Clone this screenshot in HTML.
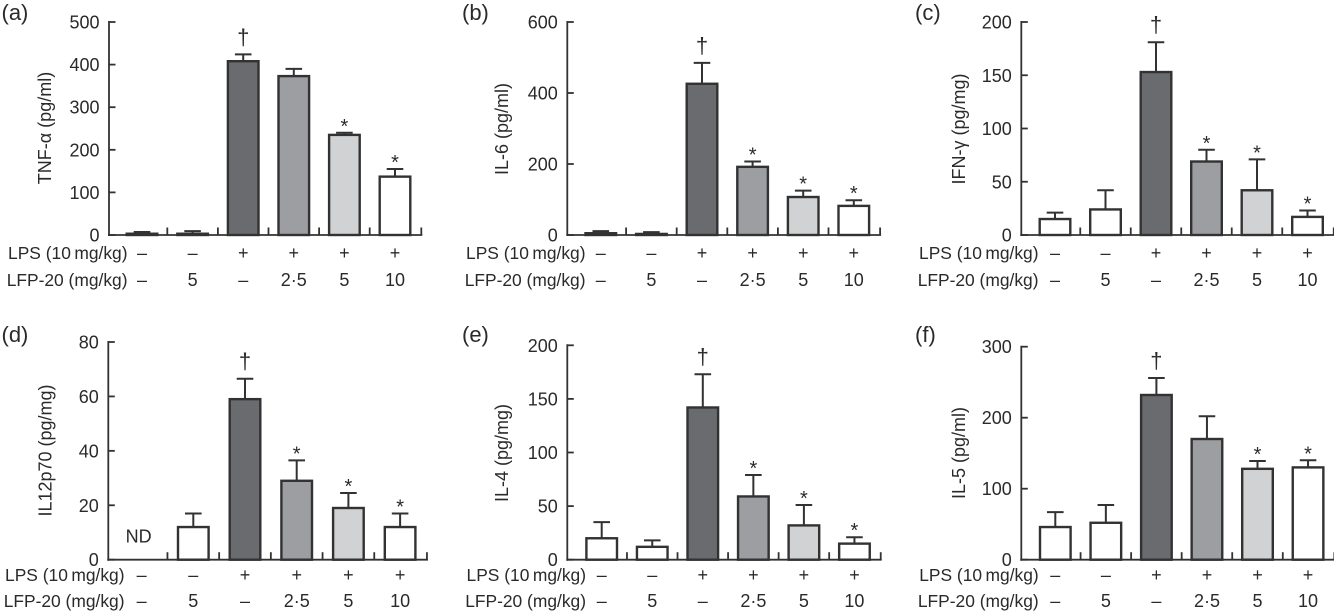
<!DOCTYPE html>
<html lang="en">
<head>
<meta charset="utf-8">
<title>Cytokine levels by treatment</title>
<style>
html,body{margin:0;padding:0;background:#fff;width:1334px;height:611px;overflow:hidden}
svg{display:block}
text{font-family:"Liberation Sans",Arial,sans-serif;fill:#2b2a2b;font-size:18px}
</style>
</head>
<body>
<svg id="figure" xmlns="http://www.w3.org/2000/svg" width="1334" height="611" viewBox="0 0 1334 611"></svg>
<script>
// Shared categories
const lpsRow = ['–', '–', '+', '+', '+', '+'];
const lfpRow = ['–', '5', '–', '2·5', '5', '10'];
const barFills = ['#ffffff', '#ffffff', '#6a6b6e', '#9c9ea1', '#d0d2d3', '#ffffff'];

// Panel (a) TNF-alpha
const aValues = [3, 3, 408, 373, 235, 137];
const aErrorTops = [7, 9, 424, 390, 240, 155];
const aMarkers = ['', '', '†', '', '*', '*'];
const aTicks = [0, 100, 200, 300, 400, 500];

// Panel (b) IL-6
const bValues = [5, 3, 426, 192, 107, 82];
const bErrorTops = [11, 8, 485, 207, 125, 98];
const bMarkers = ['', '', '†', '*', '*', '*'];
const bTicks = [0, 200, 400, 600];

// Panel (c) IFN-gamma
const cValues = [15, 24, 153, 69, 42, 17];
const cErrorTops = [21, 42, 181, 80, 71, 23];
const cMarkers = ['', '', '†', '*', '*', '*'];
const cTicks = [0, 50, 100, 150, 200];

// Panel (d) IL12p70 (first group not detected)
const dValues = [null, 12, 59, 29, 19, 12];
const dErrorTops = [null, 17, 66.5, 36.5, 24.5, 17];
const dMarkers = ['', '', '†', '*', '*', '*'];
const dTicks = [0, 20, 40, 60, 80];

// Panel (e) IL-4
const eValues = [20, 12, 142, 59, 32, 15];
const eErrorTops = [35, 18, 173, 79, 51, 21];
const eMarkers = ['', '', '†', '*', '*', '*'];
const eTicks = [0, 50, 100, 150, 200];

// Panel (f) IL-5
const fValues = [46, 52, 232, 170, 128, 130];
const fErrorTops = [67, 77, 256, 202, 139, 140];
const fMarkers = ['', '', '†', '', '*', '*'];
const fTicks = [0, 100, 200, 300];

const panels = [
  {id:'a', letter:'(a)', title:'TNF-α (pg/ml)', values:aValues, tops:aErrorTops, markers:aMarkers, ticks:aTicks,
   axisX:109, y0:235, yTop:22, first:142, step:50.6, letterX:1.5, letterY:20, titleX:51, titleY:128, rowEnd:127.5, row1:259, row2:286},
  {id:'b', letter:'(b)', title:'IL-6 (pg/ml)', values:bValues, tops:bErrorTops, markers:bMarkers, ticks:bTicks,
   axisX:567.3, y0:235, yTop:22, first:600.8, step:50.6, letterX:462, letterY:20, titleX:508, titleY:129, rowEnd:585.5, row1:259, row2:286},
  {id:'c', letter:'(c)', title:'IFN-γ (pg/mg)', values:cValues, tops:cErrorTops, markers:cMarkers, ticks:cTicks,
   axisX:1021.3, y0:235, yTop:22, first:1055, step:50.5, letterX:915, letterY:20, titleX:965, titleY:129, rowEnd:1038.5, row1:259, row2:286},
  {id:'d', letter:'(d)', title:'IL12p70 (pg/mg)', values:dValues, tops:dErrorTops, markers:dMarkers, ticks:dTicks,
   axisX:108.3, y0:559.7, yTop:342, first:141.6, step:51.7, letterX:1.5, letterY:342, titleX:51.5, titleY:450.5, rowEnd:124.5, row1:581, row2:607},
  {id:'e', letter:'(e)', title:'IL-4 (pg/mg)', values:eValues, tops:eErrorTops, markers:eMarkers, ticks:eTicks,
   axisX:567.3, y0:559.7, yTop:345.3, first:601.7, step:50.55, letterX:462, letterY:342, titleX:508, titleY:453, rowEnd:586, row1:581, row2:607},
  {id:'f', letter:'(f)', title:'IL-5 (pg/ml)', values:fValues, tops:fErrorTops, markers:fMarkers, ticks:fTicks,
   axisX:1021.3, y0:559.7, yTop:346.7, first:1055.3, step:50.55, letterX:915, letterY:342, titleX:965, titleY:453, rowEnd:1038.7, row1:581, row2:607}
];

const SVG_NS = 'http://www.w3.org/2000/svg';
const INK = '#333233';

function make(parent, tag, attrs, content) {
  const node = document.createElementNS(SVG_NS, tag);
  for (const key in attrs) node.setAttribute(key, attrs[key]);
  if (content !== undefined) node.textContent = content;
  parent.appendChild(node);
  return node;
}

function drawPanel(root, p) {
  const maxTick = p.ticks[p.ticks.length - 1];
  const yScale = v => p.y0 - (v / maxTick) * (p.y0 - p.yTop);
  const xScale = i => p.first + i * p.step;

  const group = make(root, 'g', {});
  
  

  const letter = make(group, 'text', {x: p.letterX, y: p.letterY, style: 'font-size:22px'}, p.letter);
  
  

  const title = make(group, 'text', {
    x: 0, y: 0, 'text-anchor': 'middle',
    transform: 'translate(' + p.titleX + ',' + p.titleY + ') rotate(-90)'
  }, p.title);
  
  

  // Bars and error bars
  p.values.forEach((value, i) => {
    if (value === null) return;
    const cx = xScale(i);
    const stem = make(group, 'line', {
      x1: cx, x2: cx, y1: yScale(value), y2: yScale(p.tops[i]),
      stroke: INK, 'stroke-width': 2
    });
    
    

    const cap = make(group, 'line', {
      x1: cx - 8.3, x2: cx + 8.3, y1: yScale(p.tops[i]), y2: yScale(p.tops[i]),
      stroke: INK, 'stroke-width': 2
    });
    
    

    const bar = make(group, 'rect', {
      x: cx - 15.3, y: yScale(value), width: 30.6, height: p.y0 - yScale(value),
      fill: barFills[i], stroke: INK, 'stroke-width': 2.4
    });
    
    

    if (p.markers[i]) {
      const isDagger = p.markers[i] === '†';
      const mark = make(group, 'text', {
        x: cx, y: yScale(p.tops[i]) - (isDagger ? 10 : 0), 'text-anchor': 'middle',
        style: 'font-size:' + (isDagger ? 22 : 20) + 'px'
      }, p.markers[i]);
      
      
    }
  });

  // Not-detected label sits in the empty first slot
  p.values.forEach((value, i) => {
    if (value !== null) return;
    const nd = make(group, 'text', {x: xScale(i) - 3, y: p.y0 - 17, 'text-anchor': 'middle'}, 'ND');
    
    
  });

  // Y axis
  const yAxis = make(group, 'line', {
    x1: p.axisX, x2: p.axisX, y1: p.yTop - 1, y2: p.y0 + 1, stroke: INK, 'stroke-width': 1.8
  });
  
  

  p.ticks.forEach(t => {
    const tick = make(group, 'line', {
      x1: p.axisX, x2: p.axisX + 6.5, y1: yScale(t), y2: yScale(t), stroke: INK, 'stroke-width': 1.8
    });
    
    

    const label = make(group, 'text', {
      x: p.axisX - 9.5, y: yScale(t) + 6.5, 'text-anchor': 'end'
    }, String(t));
    
    
  });

  // X axis
  const lastX = xScale(p.values.length - 1) + p.step / 2 + 1;
  const xAxis = make(group, 'line', {
    x1: p.axisX - 1, x2: lastX + 1, y1: p.y0, y2: p.y0, stroke: INK, 'stroke-width': 1.8
  });
  
  

  p.values.forEach((value, i) => {
    const tx = i === p.values.length - 1 ? lastX : xScale(i) + p.step / 2;
    const tick = make(group, 'line', {
      x1: tx, x2: tx, y1: p.y0, y2: p.y0 - 7.5, stroke: INK, 'stroke-width': 1.8
    });
    
    
  });

  // Treatment rows
  const lpsHead = make(group, 'text', {x: p.rowEnd, y: p.row1, 'text-anchor': 'end', style: 'font-size:17.4px'}, 'LPS (10\u2009mg/kg)');
  
  

  const lfpHead = make(group, 'text', {x: p.rowEnd, y: p.row2, 'text-anchor': 'end', style: 'font-size:17.4px'}, 'LFP-20 (mg/kg)');
  
  

  lpsRow.forEach((entry, i) => {
    const cell = make(group, 'text', {x: xScale(i), y: p.row1, 'text-anchor': 'middle'}, entry);
    
    
  });

  lfpRow.forEach((entry, i) => {
    const cell = make(group, 'text', {x: xScale(i), y: p.row2, 'text-anchor': 'middle'}, entry);
    
    
  });
}

const figure = document.getElementById('figure');
panels.forEach(p => drawPanel(figure, p));
</script>
</body>
</html>
